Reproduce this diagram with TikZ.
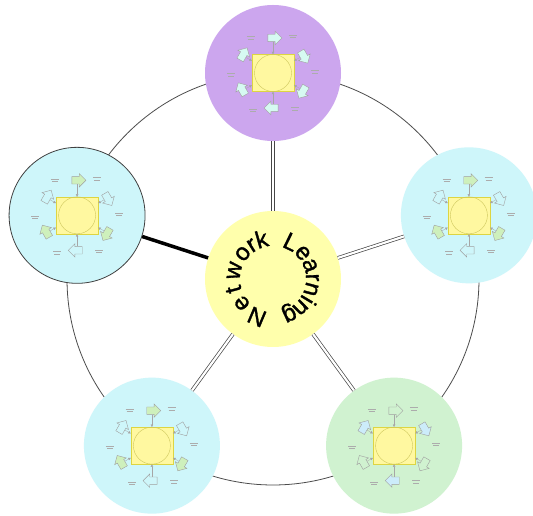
\documentclass[tikz,border=0pt]{standalone}
\usepackage{fontspec}
\setmainfont{Liberation Sans}
\newfontfamily\heavyfont{Liberation Sans}[FakeBold=1.2]
\usetikzlibrary{shapes.arrows,calc,arrows.meta}
\definecolor{purp}{RGB}{204,166,238}
\definecolor{cyanbg}{RGB}{206,246,250}
\definecolor{greenbg}{RGB}{208,242,208}
\definecolor{ctryel}{RGB}{255,255,172}
\definecolor{sqyel}{RGB}{255,248,160}
\definecolor{arrcyan}{RGB}{214,250,242}
\definecolor{arrgreen}{RGB}{206,240,188}
\definecolor{arrblue}{RGB}{204,236,250}
\newcommand\minicl[4]{%
  \node[sqbox] (#1sq) at (#2) {};
  \begin{scope}
    \clip (#1sq.south west) rectangle (#1sq.north east);
    \draw[incirc] (#2) circle (18.5pt);
  \end{scope}
  \foreach \a/\f [count=\i] in {90/#3,30/#4,-30/#3,-90/#4,-150/#3,150/#4}{
    \node[miniarr, fill=\f, rotate=\a-90] (#1a\i) at ($(#2)+(\a:35)$) {};
    \draw[minilink] (#1a\i) -- (#1sq);
    \coordinate (#1l\i) at ($(#2)+(\a-28:42)$);
    \draw[lbl] ($(#1l\i)+(-4,1)$) -- ++(8,0) ($(#1l\i)+(-3,-1.5)$) -- ++(6,0);
  }%
}
\begin{document}
\begin{tikzpicture}[x=1pt,y=1pt,
  bigc/.style={circle, minimum size=136pt, inner sep=0pt},
  sqbox/.style={rectangle, minimum width=42pt, minimum height=37pt, inner sep=0pt, fill=sqyel, draw=yellow!70!gray, line width=0.3pt},
  incirc/.style={draw=yellow!55!gray, line width=0.4pt},
  miniarr/.style={single arrow, draw=gray!75, line width=0.4pt, minimum height=14pt, inner sep=3.5pt, single arrow head extend=3pt},
  minilink/.style={draw=gray!70, line width=0.3pt, -{Triangle[length=2.5pt,width=2.5pt]}},
  lbl/.style={draw=gray!65, line width=0.4pt},
  dbl/.style={draw=gray!55!black, line width=0.7pt, double=white, double distance=2.2pt},
  thick/.style={draw=black, line width=3.5pt},
  ring/.style={draw=black!70, line width=0.8pt},
  letter/.style={font=\heavyfont\fontsize{24pt}{26pt}\selectfont, inner sep=0pt, anchor=base}]
\useasboundingbox (0,0) rectangle (533,516);
\fill[white] (0,0) rectangle (533,516);
\coordinate (C) at (273,237);
\draw[ring] (C) circle (206pt);
\node[bigc, fill=ctryel] (ctr) at (C) {};
\node[bigc, fill=purp] (T) at ($(C)+(90:206)$) {};
\node[bigc, fill=cyanbg, draw=black!75, line width=0.8pt] (L) at ($(C)+(162:206)$) {};
\node[bigc, fill=cyanbg] (R) at ($(C)+(18:206)$) {};
\node[bigc, fill=cyanbg] (BL) at ($(C)+(234:206)$) {};
\node[bigc, fill=greenbg] (BR) at ($(C)+(306:206)$) {};
\draw[dbl] (ctr) -- (T);
\draw[dbl] (ctr) -- (R);
\draw[dbl] (ctr) -- (BL);
\draw[dbl] (ctr) -- (BR);
\draw[thick] (ctr) -- (L);
\minicl{t}{T}{arrcyan}{arrcyan}
\minicl{l}{L}{arrgreen}{none}
\minicl{r}{R}{arrgreen}{none}
\minicl{bl}{BL}{arrgreen}{none}
\minicl{br}{BR}{none}{arrblue}
\foreach \ch/\ang [count=\k] in {N/247,e/218,t/195,w/168,o/140,r/122,k/106,L/64,e/41,a/20,r/2,n/-15,i/-31,n/-46,g/-65}{
  \node[letter, rotate=\ang-90] (ch\k) at ($(ctr)+(\ang:33)$) {\ch};
}
\end{tikzpicture}
\end{document}
